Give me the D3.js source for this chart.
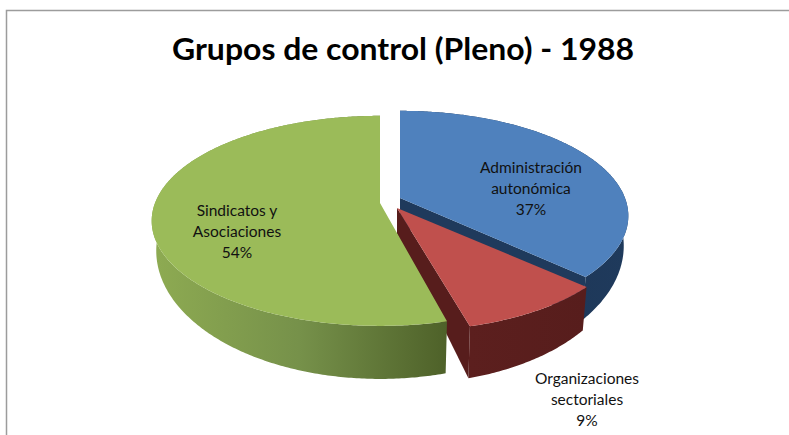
<!DOCTYPE html>
<html><head><meta charset="utf-8">
<script src="https://cdnjs.cloudflare.com/ajax/libs/d3/7.8.5/d3.min.js"></script>
<style>html,body{margin:0;padding:0;background:#fff}svg{display:block}</style></head>
<body><div id="c"></div>
<script>
const titleText = "Grupos de control (Pleno) - 1988";
const categories = ["Administración autonómica", "Organizaciones sectoriales", "Sindicatos y Asociaciones"];
const values = [37, 9, 54];
const labelLines = [["Administración","autonómica","37%"],["Organizaciones","sectoriales","9%"],["Sindicatos y","Asociaciones","54%"]];

const W = 789, H = 435;
const topColors = ["#4f81bd","#c0504d","#9bbb59"];
const wallStops = [
  [["0","#1b3252"],["1","#1f3a5c"]],
  [["0","#5c1f1e"],["1","#571d1c"]],
  [["0","#8eab52"],["0.5","#76914a"],["1","#4e6129"]]
];
const apexes = [[400,198],[397,208],[380,203]];
const skews = [0,0.05,0];
const labelPos = [[531,173],[587,384],[237,216]];
const RX = 225, RY = 102, K = 0.17;
const DEPTH0 = 26, DEPTHY = 0.22, SHRINK = 0.98;

const svg = d3.select("#c").append("svg").attr("width",W).attr("height",H);
const defs = svg.append("defs");
const font = "Lato, 'Open Sans', sans-serif";

// chart frame: top and left edges only
svg.append("path").attr("d",`M6.5,${H}V10.5H${W}`).attr("fill","none").attr("stroke","#9c9c9c").attr("stroke-width",1.5);

svg.append("text").attr("x",403).attr("y",60).attr("text-anchor","middle")
  .attr("font-family",font).attr("font-weight",700).attr("font-size",30).attr("fill","#000")
  .attr("textLength",462).attr("lengthAdjust","spacingAndGlyphs").text(titleText);

const slices = d3.pie().sort(null).value(d=>d)(values);

function upper(a, t, sk){
  const z = Math.cos(t), w = 1 + K*z;
  const dy = -RY*z/w;
  return [a[0] + RX*Math.sin(t)/w + sk*dy, a[1] + dy];
}
function lower(a, p){
  const dy = p[1]-a[1];
  return [a[0] + SHRINK*(p[0]-a[0]), p[1] + DEPTH0 + DEPTHY*dy];
}
const line = d3.line();

slices.forEach((s,i)=>{
  const a = apexes[i];
  const ts = d3.range(s.startAngle, s.endAngle, 0.01).concat([s.endAngle]);
  const arc = ts.map(t=>upper(a,t,skews[i]));
  const arcLow = arc.map(p=>lower(a,p));
  const xs = arc.map(p=>p[0]);
  const g = svg.append("g");
  const gid = "wall"+i;
  const lg = defs.append("linearGradient").attr("id",gid).attr("gradientUnits","userSpaceOnUse")
    .attr("x1",d3.min(xs)).attr("x2",d3.max(xs)).attr("y1",0).attr("y2",0);
  wallStops[i].forEach(st=>lg.append("stop").attr("offset",st[0]).attr("stop-color",st[1]));
  // outer wall
  g.append("path").attr("d",line(arc.concat(arcLow.slice().reverse()))+"Z").attr("fill",`url(#${gid})`);
  // visible cut face at the closing edge
  if (s.endAngle < Math.PI){
    const e = arc[arc.length-1];
    g.append("path").attr("d",line([a,e,lower(a,e),lower(a,a)])+"Z").attr("fill",wallStops[i][wallStops[i].length-1][1]);
  }
  // top surface
  g.append("path").attr("d",line([a].concat(arc))+"Z").attr("fill",topColors[i]);
});

labelLines.forEach((ls,i)=>{
  const t = svg.append("text").attr("font-family",font).attr("font-size",15.5).attr("fill","#111").attr("text-anchor","middle");
  ls.forEach((l,j)=>t.append("tspan").attr("x",labelPos[i][0]).attr("y",labelPos[i][1]+j*21).text(l));
});
</script></body></html>
